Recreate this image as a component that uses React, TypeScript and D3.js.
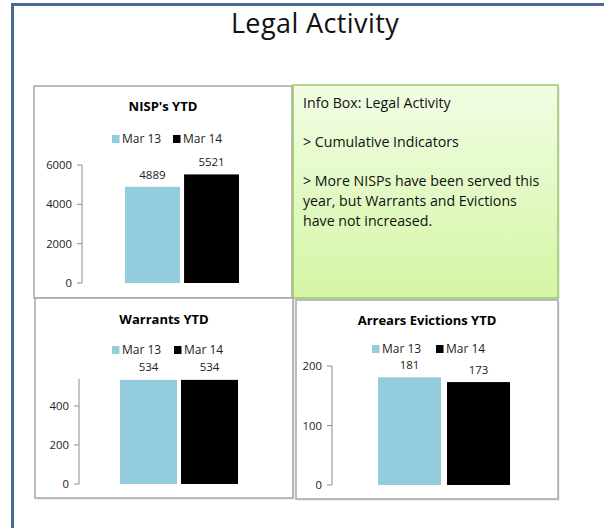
import { scaleBand, scaleLinear } from 'd3'

const width = 604
const height = 528

const series = ['Mar 13', 'Mar 14']
const colors = ['#93cddd', '#000000']

const nispValues = [4889, 5521]
const nispTicks = [0, 2000, 4000, 6000]

const warrantValues = [534, 534]
const warrantTicks = [0, 200, 400]

const evictionValues = [181, 173]
const evictionTicks = [0, 100, 200]

const infoLines = [
  'Info Box: Legal Activity',
  '',
  '> Cumulative Indicators',
  '',
  '> More NISPs have been served this',
  'year, but Warrants and Evictions',
  'have not increased.'
]

const font = '"Open Sans", Lato, sans-serif'

type PanelProps = {
  title: string
  values: number[]
  ticks: number[]
  box: { x: number; y: number; w: number; h: number }
  titleY: number
  legendX: number
  legendY: number
  legendGap: number
  axisX: number
  yDomain: [number, number]
  yRange: [number, number]
  xRange: [number, number]
  padInner: number
  labelOffset: number
}

function BarPanel(p: PanelProps) {
  const yScale = scaleLinear().domain(p.yDomain).range(p.yRange)
  const xScale = scaleBand<string>().domain(series).range(p.xRange).paddingInner(p.padInner)
  const cx = p.box.x + p.box.w / 2

  return (
    <g>
      <rect x={p.box.x + 1.5} y={p.box.y + 1.5} width={p.box.w} height={p.box.h} fill="#e0e0e0" />
      <rect x={p.box.x} y={p.box.y} width={p.box.w} height={p.box.h} fill="#fff" stroke="#a6a6a6" strokeWidth={1.5} />
      <text x={cx} y={p.titleY} textAnchor="middle" fontWeight="bold" fontSize={13} fontFamily={font}>
        {p.title}
      </text>

      {series.map((s, i) => (
        <g key={s} transform={`translate(${p.legendX + i * p.legendGap},${p.legendY})`}>
          <rect x={0} y={-4} width={7.5} height={8} fill={colors[i]} />
          <text x={10} y={4} fontSize={12} fontFamily={font} fill="#222">
            {s}
          </text>
        </g>
      ))}

      <line x1={p.axisX} x2={p.axisX} y1={yScale(p.yDomain[0])} y2={yScale(p.yDomain[1])} stroke="#8c8c8c" />
      {p.ticks.map((t) => (
        <g key={t}>
          <line x1={p.axisX - 5} x2={p.axisX} y1={yScale(t)} y2={yScale(t)} stroke="#8c8c8c" />
          <text x={p.axisX - 10} y={yScale(t) + 4} textAnchor="end" fontSize={11.3} fontFamily={font} fill="#222">
            {t}
          </text>
        </g>
      ))}

      {p.values.map((v, i) => (
        <g key={i}>
          <rect
            x={xScale(series[i])}
            y={yScale(v)}
            width={xScale.bandwidth()}
            height={yScale(0) - yScale(v)}
            fill={colors[i]}
          />
          <text
            x={(xScale(series[i]) ?? 0) + xScale.bandwidth() / 2}
            y={yScale(v) - p.labelOffset}
            textAnchor="middle"
            fontSize={11.5}
            fontFamily={font}
            fill="#222"
          >
            {v}
          </text>
        </g>
      ))}
    </g>
  )
}

function App() {
  return (
    <svg width={width} height={height} style={{ position: 'absolute', left: 0, top: 0 }}>
      <defs>
        <linearGradient id="greenFill" x1="0" y1="0" x2="0" y2="1">
          <stop offset="0%" stopColor="#f1fde4" />
          <stop offset="100%" stopColor="#d4f6a4" />
        </linearGradient>
      </defs>
      <rect x={0} y={0} width={width} height={height} fill="#fff" />
      <path d={`M12.5,${height} L12.5,4.5 L${width},4.5`} fill="none" stroke="#4a6a98" strokeWidth={3} />

      <text x={315} y={33} textAnchor="middle" fontSize={27} letterSpacing={0.4} fontFamily={font} fill="#111">
        Legal Activity
      </text>

      <BarPanel
        title="NISP's YTD"
        values={nispValues}
        ticks={nispTicks}
        box={{ x: 34, y: 86, w: 258, h: 212 }}
        titleY={111}
        legendX={112}
        legendY={139}
        legendGap={61}
        axisX={82}
        yDomain={[0, 6000]}
        yRange={[283, 165]}
        xRange={[125, 239]}
        padInner={0.07}
        labelOffset={8}
      />

      <g>
        <rect x={294.5} y={86.5} width={265} height={213} fill="#e0e0e0" />
        <rect x={293} y={85} width={265} height={213} fill="url(#greenFill)" stroke="#9cc865" strokeWidth={1.5} />
        {infoLines.map((l, i) => (
          <text key={i} x={303} y={107.5 + i * 19.7} fontSize={14.2} fontFamily={font} fill="#111">
            {l}
          </text>
        ))}
      </g>

      <BarPanel
        title="Warrants YTD"
        values={warrantValues}
        ticks={warrantTicks}
        box={{ x: 35, y: 298, w: 258, h: 200 }}
        titleY={324}
        legendX={112}
        legendY={350}
        legendGap={62}
        axisX={79}
        yDomain={[0, 540]}
        yRange={[484, 378.7]}
        xRange={[120, 238]}
        padInner={0.066}
        labelOffset={9}
      />

      <BarPanel
        title="Arrears Evictions YTD"
        values={evictionValues}
        ticks={evictionTicks}
        box={{ x: 296, y: 300, w: 262, h: 199 }}
        titleY={325}
        legendX={372}
        legendY={349}
        legendGap={64}
        axisX={332}
        yDomain={[0, 200]}
        yRange={[485, 366]}
        xRange={[378, 510]}
        padInner={0.087}
        labelOffset={8}
      />
    </svg>
  )
}

export default App
